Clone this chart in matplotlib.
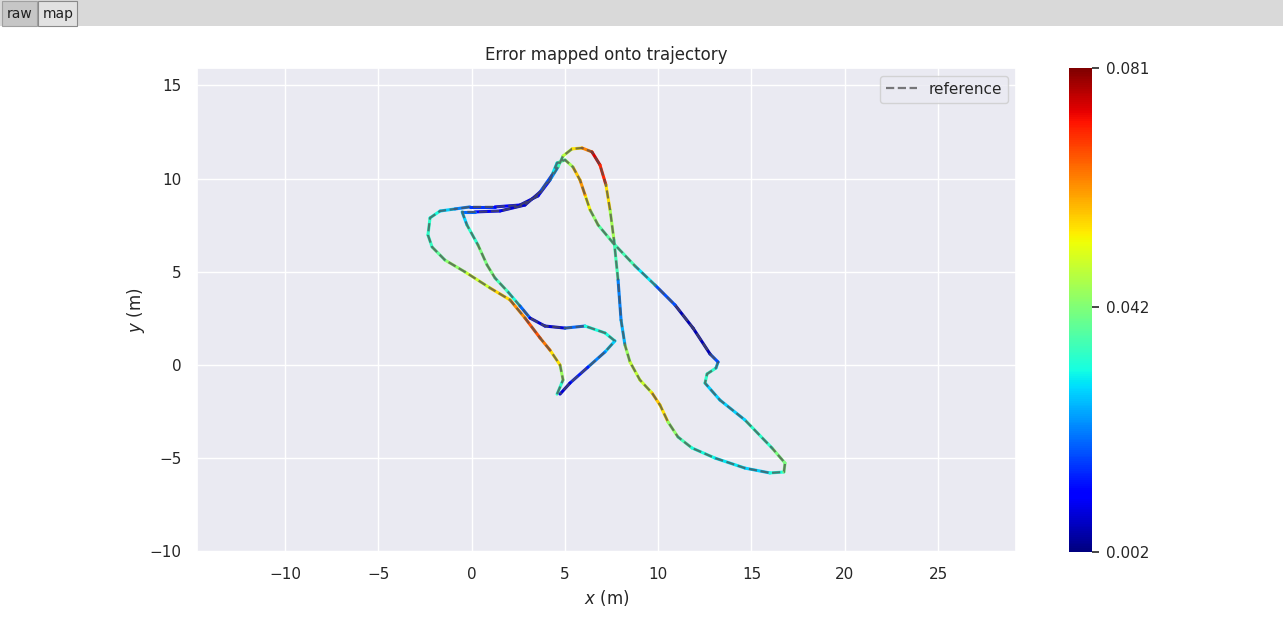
import numpy as np
import matplotlib
matplotlib.use("Agg")
import matplotlib.pyplot as plt
from matplotlib.collections import LineCollection
from matplotlib.patches import Rectangle
import seaborn as sns

# ---- data ----
traj_x = [4.58, 4.90, 4.74, 4.20, 3.67, 2.86, 2.06, 0.99, -0.35, -1.43, -2.12, -2.34, -2.23,
          -1.69, -0.89, -0.09, 1.25, 2.59, 3.56, 4.20, 4.63, 4.90, 5.38, 5.92, 6.45, 6.88,
          7.20, 7.42, 7.63, 7.85, 8.01, 8.22, 8.49, 9.02, 9.67, 10.10, 10.53, 11.06, 11.81,
          13.04, 14.65, 15.99, 16.74, 16.80, 16.10, 14.65, 13.31, 12.51, 12.62, 13.10, 13.21,
          12.78, 11.87, 10.90, 9.83, 8.76, 7.58, 6.78, 6.35, 6.08, 5.81, 5.43, 5.01, 4.58,
          4.31, 3.67, 2.86, 1.52, 0.18, -0.51, -0.25, 0.34, 0.83, 1.25, 1.95, 2.59, 3.13,
          3.93, 5.01, 6.08, 7.15, 7.68, 7.15, 6.24, 5.27, 4.74]
traj_y = [-1.56, -0.80, 0.00, 0.80, 1.45, 2.52, 3.49, 4.13, 4.99, 5.63, 6.33, 6.97, 7.89,
          8.26, 8.37, 8.48, 8.48, 8.58, 9.07, 9.92, 10.62, 11.21, 11.59, 11.64, 11.43, 10.73,
          9.66, 8.32, 6.71, 4.56, 2.41, 1.07, 0.16, -0.80, -1.50, -2.15, -3.06, -3.86, -4.45,
          -4.99, -5.53, -5.79, -5.74, -5.26, -4.45, -2.95, -1.88, -0.97, -0.48, -0.16, 0.16,
          0.59, 1.98, 3.22, 4.29, 5.31, 6.55, 7.51, 8.32, 9.12, 9.92, 10.62, 11.00, 10.84,
          10.19, 9.28, 8.58, 8.26, 8.21, 8.21, 7.51, 6.44, 5.36, 4.67, 3.92, 3.17, 2.52,
          2.09, 1.98, 2.09, 1.72, 1.29, 0.70, -0.11, -0.97, -1.56]
ape_error = [0.030, 0.038, 0.051, 0.059, 0.069, 0.065, 0.059, 0.053, 0.045, 0.042, 0.035,
             0.034, 0.034, 0.030, 0.026, 0.018, 0.014, 0.010, 0.006, 0.018, 0.030, 0.042,
             0.053, 0.057, 0.069, 0.081, 0.061, 0.049, 0.042, 0.030, 0.014, 0.038, 0.051,
             0.045, 0.053, 0.061, 0.049, 0.038, 0.034, 0.030, 0.030, 0.026, 0.038, 0.045,
             0.038, 0.030, 0.026, 0.030, 0.038, 0.030, 0.026, 0.010, 0.002, 0.010, 0.026,
             0.034, 0.038, 0.038, 0.049, 0.057, 0.065, 0.049, 0.042, 0.034, 0.026, 0.010,
             0.006, 0.010, 0.014, 0.026, 0.030, 0.038, 0.045, 0.038, 0.034, 0.030, 0.010,
             0.006, 0.010, 0.030, 0.034, 0.030, 0.026, 0.018, 0.010, 0.006]
x_ticks = [-10, -5, 0, 5, 10, 15, 20, 25]
y_ticks = [-10, -5, 0, 5, 10, 15]
cbar_ticks = [0.002, 0.042, 0.081]
cbar_labels = ["0.002", "0.042", "0.081"]

sns.set_theme(style="darkgrid")
plt.rcParams['font.family'] = ['DejaVu Sans']

fig = plt.figure(figsize=(12.83, 6.29), dpi=100)
W, H = 1283, 629

def fx(px):
    return px / W

def fy(py):
    return 1 - py / H

# window chrome: tab bar
fig.patches.append(Rectangle((0, fy(26)), 1, 26 / H, transform=fig.transFigure,
                             facecolor="#d9d9d9", edgecolor="none", zorder=0))
fig.patches.append(Rectangle((fx(2), fy(26)), 35 / W, 25 / H, transform=fig.transFigure,
                             facecolor="#c6c6c6", edgecolor="#a0a0a0", lw=0.8, zorder=1))
fig.patches.append(Rectangle((fx(38), fy(26)), 39 / W, 25 / H, transform=fig.transFigure,
                             facecolor="#e2e2e2", edgecolor="#8a8a8a", lw=0.8, zorder=1))
fig.text(fx(20), fy(14), "raw", ha="center", va="center", fontsize=10, color="#202020")
fig.text(fx(58), fy(14), "map", ha="center", va="center", fontsize=10, color="#202020")

ax = fig.add_axes([fx(197), fy(552), (1016 - 197) / W, (552 - 68) / H])
ax.set_facecolor("#EAEAF2")

x = np.array(traj_x)
y = np.array(traj_y)
e = np.array(ape_error)
pts = np.column_stack([x, y]).reshape(-1, 1, 2)
segs = np.concatenate([pts[:-1], pts[1:]], axis=1)
norm = matplotlib.colors.Normalize(vmin=min(ape_error), vmax=max(ape_error))
lc = LineCollection(segs, cmap="jet", norm=norm, linewidths=2.2, zorder=3,
                    capstyle="round", joinstyle="round")
lc.set_array(0.5 * (e[:-1] + e[1:]))
ax.add_collection(lc)

ax.plot(x, y, linestyle="--", color="#505050", alpha=0.75, lw=1.6, label="reference", zorder=4)

ax.set_xlim(-14.72, 29.18)
ax.set_ylim(-10.03, 15.93)
ax.set_xticks(x_ticks)
ax.set_yticks(y_ticks)
ax.set_xticklabels([str(t) if t >= 0 else "\u2212" + str(-t) for t in x_ticks])
ax.set_yticklabels([str(t) if t >= 0 else "\u2212" + str(-t) for t in y_ticks])
ax.tick_params(labelsize=11, colors="#262626", length=0, pad=11)
ax.set_xlabel("$x$ (m)", fontsize=12, color="#262626", labelpad=4)
ax.set_ylabel("$y$ (m)", fontsize=12, color="#262626", labelpad=2)
ax.set_title("Error mapped onto trajectory", fontsize=12, color="#262626", pad=6)
ax.legend(loc="upper right", fontsize=11, frameon=True)

cax = fig.add_axes([fx(1069), fy(552), 23 / W, (552 - 68) / H])
sm = matplotlib.cm.ScalarMappable(norm=norm, cmap="jet")
cb = fig.colorbar(sm, cax=cax, ticks=cbar_ticks)
cb.ax.set_yticklabels(cbar_labels)
cb.outline.set_visible(False)
cb.ax.tick_params(labelsize=11, colors="#262626", length=5, width=1.2, pad=5, right=True)

fig.savefig("out.png", dpi=100)
